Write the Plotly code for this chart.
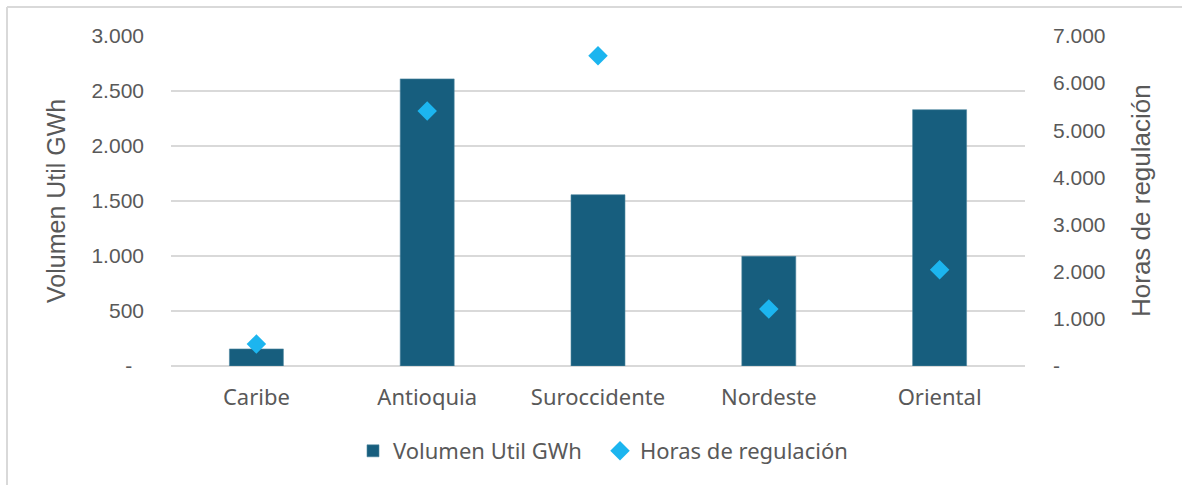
import plotly.graph_objects as go

# data
regiones = ["Caribe", "Antioquia", "Suroccidente", "Nordeste", "Oriental"]
volumen_gwh = [155, 2610, 1557, 997, 2330]
horas_regulacion = [465, 5410, 6580, 1210, 2040]

left_ticks = [0, 500, 1000, 1500, 2000, 2500, 3000]
left_labels = ["-\u00a0\u00a0", "500", "1.000", "1.500", "2.000", "2.500", "3.000"]
right_ticks = [0, 1000, 2000, 3000, 4000, 5000, 6000, 7000]
right_labels = ["-", "1.000", "2.000", "3.000", "4.000", "5.000", "6.000", "7.000"]

GRAY_TXT = "#595959"
GRID = "#d9d9d9"
BAR_COL = "#175e7e"
DIA_COL = "#1cb5ef"

fig = go.Figure()

fig.add_trace(go.Bar(
    x=regiones, y=volumen_gwh,
    name="Volumen Util GWh",
    marker=dict(color=BAR_COL, line=dict(color="#4f86a0", width=0.6)),
    yaxis="y",
))

fig.add_trace(go.Scatter(
    x=regiones, y=horas_regulacion,
    name="Horas de regulación",
    mode="markers",
    marker=dict(symbol="diamond", size=15, color=DIA_COL),
    yaxis="y2",
))

# plot area: x 171..1025, y 36..366 (pixels)
L, R, T, B = 171, 1025, 36, 366
W, H = R - L, B - T

def px_x(p):
    return (p - L) / W

def px_y(q):
    return (B - q) / H

fig.update_layout(
    width=1182, height=485,
    margin=dict(l=L, r=1182 - R, t=T, b=485 - B),
    paper_bgcolor="white", plot_bgcolor="white",
    font=dict(family="Liberation Sans, Arial, sans-serif", color=GRAY_TXT, size=21),
    bargap=0.684,
    showlegend=True,
    legend=dict(
        orientation="h",
        x=px_x(353), xanchor="left",
        y=px_y(451), yanchor="middle",
        font=dict(family="Noto Sans, sans-serif", size=22, color=GRAY_TXT),
        entrywidth=202, entrywidthmode="pixels",
    ),
    xaxis=dict(
        showgrid=False, showline=False, ticks="",
        tickfont=dict(family="Noto Sans, sans-serif", size=22, color=GRAY_TXT),
        ticklabelstandoff=16,
    ),
    yaxis=dict(
        range=[0, 3000], tickvals=left_ticks, ticktext=left_labels,
        showgrid=True, gridcolor=GRID, gridwidth=1.5,
        zeroline=True, zerolinecolor=GRID, zerolinewidth=1.5,
        showline=False, ticks="", ticklabelstandoff=26,
        tickfont=dict(size=21, color=GRAY_TXT),
    ),
    yaxis2=dict(
        range=[0, 7000], tickvals=right_ticks, ticktext=right_labels,
        overlaying="y", side="right",
        showgrid=False, zeroline=False, showline=False,
        ticks="", ticklabelstandoff=27,
        tickfont=dict(size=21, color=GRAY_TXT),
    ),
    annotations=[
        dict(text="Volumen Util GWh", textangle=-90, showarrow=False,
             xref="paper", yref="paper", x=px_x(56), y=0.5,
             xanchor="center", yanchor="middle",
             font=dict(size=25, color=GRAY_TXT)),
        dict(text="Horas de regulación", textangle=-90, showarrow=False,
             xref="paper", yref="paper", x=px_x(1141), y=0.5,
             xanchor="center", yanchor="middle",
             font=dict(size=26, color=GRAY_TXT)),
    ],
    shapes=[
        # chart frame (only left and top edges visible in the crop)
        dict(type="line", xref="paper", yref="paper",
             x0=px_x(7), x1=px_x(7), y0=px_y(7), y1=px_y(520),
             line=dict(color=GRID, width=2)),
        dict(type="line", xref="paper", yref="paper",
             x0=px_x(7), x1=px_x(1250), y0=px_y(7), y1=px_y(7),
             line=dict(color=GRID, width=2)),
    ],
)

# drop the default 8px page margin so the figure sits at the window origin
fig.write_html("out.html", config={"displayModeBar": False},
               post_script="document.body.style.margin='0';")
